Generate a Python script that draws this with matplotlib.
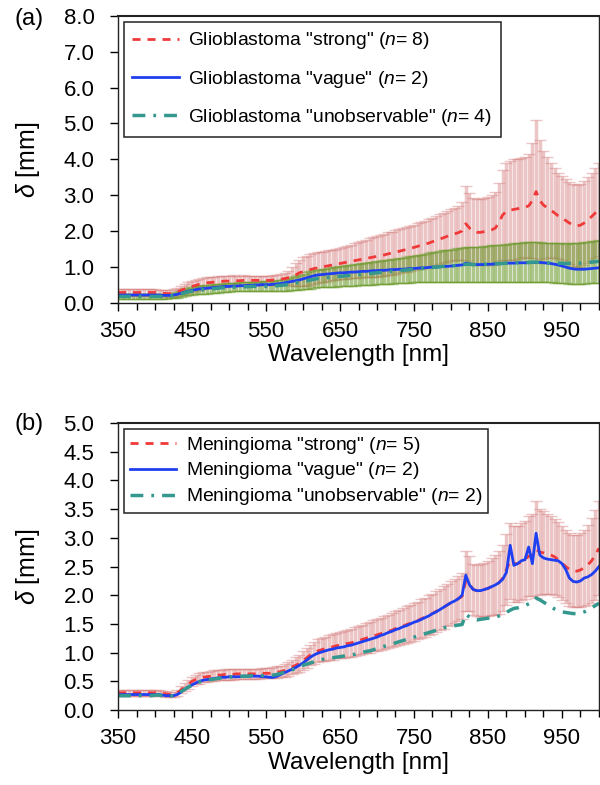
import numpy as np
import matplotlib
matplotlib.use("Agg")
import matplotlib.pyplot as plt
from matplotlib.ticker import MultipleLocator, FixedLocator

plt.rcParams['font.family'] = ['Liberation Sans', 'DejaVu Sans']
plt.rcParams['mathtext.fontset'] = 'custom'
plt.rcParams['mathtext.rm'] = 'Liberation Sans'
plt.rcParams['mathtext.it'] = 'Liberation Sans:italic'

# wavelength grid, 5 nm steps
wavelength = np.arange(350, 1001, 5)
xtick_labels = [350, 450, 550, 650, 750, 850, 950]

# ---- (a) glioblastoma ----
gbm_strong = [
    0.28, 0.28, 0.28, 0.28, 0.28, 0.28, 0.28, 0.28, 0.28, 0.28,
    0.28, 0.27, 0.26, 0.25, 0.25, 0.27, 0.30, 0.34, 0.38, 0.42,
    0.45, 0.48, 0.51, 0.53, 0.55, 0.56, 0.57, 0.58, 0.59, 0.60,
    0.60, 0.61, 0.61, 0.61, 0.62, 0.62, 0.62, 0.62, 0.62, 0.62,
    0.62, 0.62, 0.63, 0.64, 0.65, 0.67, 0.69, 0.72, 0.77, 0.83,
    0.86, 0.89, 0.92, 0.95, 0.97, 0.99, 1.01, 1.03, 1.05, 1.07,
    1.09, 1.11, 1.13, 1.15, 1.17, 1.19, 1.21, 1.23, 1.25, 1.27,
    1.29, 1.31, 1.33, 1.36, 1.38, 1.41, 1.43, 1.46, 1.48, 1.51,
    1.54, 1.57, 1.60, 1.63, 1.66, 1.70, 1.73, 1.77, 1.81, 1.85,
    1.89, 1.92, 1.95, 2.00, 2.20, 2.08, 1.99, 1.96, 1.96, 1.98,
    2.00, 2.03, 2.08, 2.25, 2.45, 2.55, 2.58, 2.60, 2.62, 2.64,
    2.66, 2.70, 2.85, 3.10, 2.85, 2.72, 2.65, 2.58, 2.50, 2.42,
    2.36, 2.29, 2.22, 2.17, 2.14, 2.16, 2.22, 2.30, 2.40, 2.50,
    2.60]
gbm_strong_sd = [
    0.09, 0.09, 0.09, 0.09, 0.09, 0.09, 0.09, 0.09, 0.09, 0.09,
    0.09, 0.09, 0.09, 0.09, 0.09, 0.10, 0.11, 0.12, 0.13, 0.14,
    0.15, 0.15, 0.15, 0.15, 0.15, 0.15, 0.15, 0.15, 0.15, 0.15,
    0.15, 0.15, 0.14, 0.14, 0.14, 0.13, 0.13, 0.13, 0.13, 0.13,
    0.13, 0.13, 0.13, 0.13, 0.14, 0.16, 0.20, 0.26, 0.32, 0.37,
    0.40, 0.42, 0.43, 0.43, 0.43, 0.43, 0.43, 0.43, 0.43, 0.43,
    0.44, 0.45, 0.46, 0.47, 0.48, 0.50, 0.51, 0.52, 0.54, 0.55,
    0.57, 0.58, 0.59, 0.60, 0.60, 0.61, 0.61, 0.62, 0.62, 0.63,
    0.63, 0.64, 0.65, 0.65, 0.66, 0.67, 0.68, 0.69, 0.70, 0.71,
    0.72, 0.73, 0.75, 0.80, 1.05, 0.98, 0.93, 0.92, 0.92, 0.93,
    0.95, 0.97, 1.00, 1.10, 1.25, 1.35, 1.38, 1.40, 1.40, 1.40,
    1.40, 1.45, 1.60, 2.00, 1.70, 1.50, 1.40, 1.32, 1.25, 1.20,
    1.17, 1.15, 1.14, 1.14, 1.15, 1.16, 1.18, 1.20, 1.23, 1.26,
    1.30]
gbm_vague = [
    0.21, 0.21, 0.21, 0.21, 0.21, 0.21, 0.21, 0.21, 0.21, 0.21,
    0.21, 0.21, 0.20, 0.20, 0.20, 0.21, 0.23, 0.26, 0.29, 0.32,
    0.34, 0.36, 0.38, 0.39, 0.40, 0.41, 0.42, 0.43, 0.44, 0.45,
    0.45, 0.46, 0.46, 0.47, 0.47, 0.48, 0.48, 0.49, 0.49, 0.50,
    0.50, 0.50, 0.51, 0.52, 0.53, 0.55, 0.57, 0.59, 0.61, 0.63,
    0.66, 0.69, 0.72, 0.75, 0.77, 0.78, 0.79, 0.80, 0.81, 0.82,
    0.83, 0.83, 0.84, 0.85, 0.85, 0.86, 0.87, 0.87, 0.88, 0.89,
    0.89, 0.90, 0.90, 0.91, 0.92, 0.92, 0.93, 0.93, 0.94, 0.95,
    0.95, 0.96, 0.97, 0.97, 0.98, 0.99, 0.99, 1.00, 1.01, 1.01,
    1.02, 1.03, 1.04, 1.05, 1.10, 1.08, 1.06, 1.06, 1.06, 1.06,
    1.07, 1.07, 1.08, 1.08, 1.09, 1.10, 1.10, 1.10, 1.11, 1.11,
    1.11, 1.11, 1.12, 1.12, 1.12, 1.11, 1.10, 1.09, 1.07, 1.05,
    1.02, 0.99, 0.96, 0.94, 0.93, 0.93, 0.93, 0.94, 0.95, 0.96,
    0.97]
gbm_unobs = [
    0.17, 0.17, 0.17, 0.17, 0.17, 0.17, 0.17, 0.17, 0.17, 0.17,
    0.17, 0.17, 0.17, 0.17, 0.18, 0.19, 0.21, 0.24, 0.27, 0.30,
    0.32, 0.34, 0.35, 0.36, 0.37, 0.38, 0.39, 0.40, 0.41, 0.42,
    0.42, 0.43, 0.43, 0.44, 0.44, 0.44, 0.45, 0.45, 0.45, 0.45,
    0.45, 0.46, 0.46, 0.47, 0.48, 0.49, 0.51, 0.53, 0.55, 0.57,
    0.59, 0.61, 0.63, 0.65, 0.67, 0.68, 0.69, 0.70, 0.71, 0.72,
    0.73, 0.74, 0.75, 0.76, 0.77, 0.78, 0.79, 0.80, 0.81, 0.82,
    0.83, 0.84, 0.85, 0.86, 0.87, 0.88, 0.89, 0.90, 0.91, 0.92,
    0.93, 0.94, 0.95, 0.96, 0.97, 0.98, 0.99, 1.00, 1.01, 1.02,
    1.02, 1.03, 1.04, 1.05, 1.07, 1.07, 1.06, 1.06, 1.06, 1.07,
    1.07, 1.08, 1.08, 1.09, 1.09, 1.10, 1.10, 1.11, 1.11, 1.12,
    1.12, 1.12, 1.13, 1.13, 1.12, 1.12, 1.11, 1.11, 1.10, 1.10,
    1.10, 1.09, 1.09, 1.09, 1.10, 1.10, 1.11, 1.12, 1.13, 1.14,
    1.15]
gbm_unobs_sd = [
    0.06, 0.06, 0.06, 0.06, 0.06, 0.06, 0.06, 0.06, 0.06, 0.06,
    0.06, 0.06, 0.06, 0.06, 0.06, 0.07, 0.08, 0.09, 0.10, 0.10,
    0.11, 0.11, 0.11, 0.12, 0.12, 0.12, 0.12, 0.12, 0.12, 0.12,
    0.12, 0.12, 0.12, 0.13, 0.13, 0.13, 0.13, 0.13, 0.13, 0.14,
    0.14, 0.14, 0.15, 0.15, 0.16, 0.17, 0.18, 0.19, 0.20, 0.21,
    0.22, 0.23, 0.24, 0.25, 0.25, 0.26, 0.26, 0.27, 0.27, 0.28,
    0.28, 0.29, 0.29, 0.30, 0.30, 0.30, 0.31, 0.31, 0.31, 0.32,
    0.32, 0.32, 0.33, 0.33, 0.34, 0.34, 0.35, 0.35, 0.36, 0.37,
    0.37, 0.38, 0.39, 0.40, 0.41, 0.42, 0.43, 0.44, 0.45, 0.46,
    0.46, 0.47, 0.48, 0.48, 0.49, 0.49, 0.50, 0.50, 0.50, 0.51,
    0.51, 0.52, 0.52, 0.53, 0.53, 0.54, 0.54, 0.55, 0.55, 0.55,
    0.56, 0.56, 0.56, 0.56, 0.56, 0.55, 0.55, 0.55, 0.55, 0.55,
    0.55, 0.55, 0.56, 0.56, 0.57, 0.57, 0.58, 0.58, 0.59, 0.59,
    0.60]

# ---- (b) meningioma ----
mng_strong = [
    0.30, 0.30, 0.30, 0.30, 0.30, 0.30, 0.30, 0.30, 0.30, 0.30,
    0.30, 0.30, 0.29, 0.28, 0.27, 0.27, 0.30, 0.35, 0.40, 0.45,
    0.50, 0.53, 0.55, 0.57, 0.58, 0.59, 0.60, 0.61, 0.61, 0.62,
    0.62, 0.62, 0.63, 0.63, 0.63, 0.63, 0.63, 0.63, 0.63, 0.64,
    0.64, 0.64, 0.65, 0.66, 0.67, 0.69, 0.72, 0.75, 0.78, 0.81,
    0.86, 0.91, 0.96, 1.00, 1.03, 1.05, 1.07, 1.09, 1.10, 1.12,
    1.13, 1.14, 1.16, 1.17, 1.19, 1.21, 1.23, 1.25, 1.27, 1.29,
    1.31, 1.33, 1.35, 1.37, 1.39, 1.42, 1.44, 1.46, 1.49, 1.51,
    1.54, 1.56, 1.59, 1.62, 1.65, 1.68, 1.72, 1.75, 1.79, 1.83,
    1.87, 1.90, 1.94, 1.98, 2.25, 2.20, 2.10, 2.08, 2.08, 2.10,
    2.12, 2.15, 2.18, 2.22, 2.30, 2.45, 2.60, 2.55, 2.55, 2.58,
    2.62, 2.68, 2.70, 2.80, 2.75, 2.74, 2.72, 2.70, 2.67, 2.62,
    2.56, 2.50, 2.45, 2.42, 2.42, 2.44, 2.48, 2.53, 2.60, 2.70,
    2.82]
mng_strong_sd = [
    0.05, 0.05, 0.05, 0.05, 0.05, 0.05, 0.05, 0.05, 0.05, 0.05,
    0.05, 0.05, 0.05, 0.05, 0.05, 0.05, 0.05, 0.06, 0.07, 0.08,
    0.08, 0.08, 0.09, 0.09, 0.09, 0.09, 0.09, 0.09, 0.09, 0.09,
    0.09, 0.09, 0.09, 0.09, 0.09, 0.09, 0.09, 0.09, 0.09, 0.09,
    0.09, 0.09, 0.10, 0.10, 0.10, 0.11, 0.12, 0.13, 0.14, 0.15,
    0.16, 0.17, 0.18, 0.19, 0.20, 0.20, 0.21, 0.21, 0.22, 0.22,
    0.23, 0.23, 0.24, 0.24, 0.25, 0.25, 0.26, 0.26, 0.27, 0.27,
    0.28, 0.28, 0.29, 0.29, 0.30, 0.30, 0.31, 0.31, 0.32, 0.32,
    0.33, 0.33, 0.34, 0.34, 0.35, 0.35, 0.36, 0.36, 0.37, 0.37,
    0.38, 0.38, 0.39, 0.40, 0.52, 0.48, 0.45, 0.45, 0.46, 0.47,
    0.48, 0.50, 0.52, 0.55, 0.58, 0.62, 0.66, 0.66, 0.66, 0.67,
    0.68, 0.70, 0.72, 0.85, 0.75, 0.72, 0.70, 0.68, 0.66, 0.65,
    0.64, 0.63, 0.63, 0.63, 0.63, 0.64, 0.66, 0.70, 0.74, 0.78,
    0.82]
mng_vague = [
    0.27, 0.27, 0.27, 0.27, 0.27, 0.27, 0.27, 0.27, 0.27, 0.27,
    0.27, 0.27, 0.26, 0.25, 0.25, 0.25, 0.27, 0.31, 0.36, 0.40,
    0.44, 0.47, 0.50, 0.52, 0.53, 0.54, 0.55, 0.56, 0.57, 0.57,
    0.58, 0.58, 0.58, 0.58, 0.59, 0.59, 0.59, 0.59, 0.59, 0.58,
    0.58, 0.57, 0.57, 0.59, 0.62, 0.65, 0.68, 0.71, 0.74, 0.78,
    0.82, 0.87, 0.92, 0.96, 0.99, 1.01, 1.03, 1.05, 1.06, 1.08,
    1.09, 1.10, 1.12, 1.13, 1.15, 1.17, 1.19, 1.21, 1.23, 1.25,
    1.27, 1.30, 1.32, 1.35, 1.37, 1.40, 1.42, 1.45, 1.47, 1.50,
    1.53, 1.55, 1.58, 1.61, 1.64, 1.68, 1.71, 1.75, 1.79, 1.83,
    1.87, 1.90, 1.94, 2.00, 2.35, 2.18, 2.10, 2.08, 2.08, 2.10,
    2.12, 2.15, 2.18, 2.22, 2.28, 2.40, 2.87, 2.52, 2.55, 2.60,
    2.62, 2.84, 2.55, 3.08, 2.70, 2.65, 2.63, 2.62, 2.61, 2.60,
    2.55, 2.45, 2.30, 2.24, 2.23, 2.25, 2.30, 2.32, 2.36, 2.42,
    2.50]
mng_unobs = [
    0.25, 0.25, 0.25, 0.25, 0.25, 0.25, 0.25, 0.25, 0.25, 0.25,
    0.26, 0.26, 0.25, 0.25, 0.24, 0.25, 0.28, 0.32, 0.36, 0.40,
    0.43, 0.46, 0.49, 0.51, 0.52, 0.53, 0.54, 0.55, 0.56, 0.57,
    0.57, 0.58, 0.58, 0.59, 0.59, 0.59, 0.60, 0.60, 0.60, 0.60,
    0.60, 0.60, 0.61, 0.62, 0.64, 0.66, 0.68, 0.70, 0.72, 0.75,
    0.78, 0.80, 0.82, 0.84, 0.86, 0.88, 0.89, 0.90, 0.91, 0.92,
    0.93, 0.94, 0.95, 0.96, 0.97, 0.99, 1.00, 1.02, 1.03, 1.05,
    1.07, 1.09, 1.11, 1.13, 1.15, 1.17, 1.19, 1.21, 1.23, 1.25,
    1.27, 1.29, 1.31, 1.33, 1.35, 1.37, 1.39, 1.41, 1.43, 1.45,
    1.46, 1.47, 1.48, 1.49, 1.67, 1.62, 1.58, 1.57, 1.58, 1.59,
    1.60, 1.61, 1.62, 1.64, 1.66, 1.70, 1.74, 1.77, 1.78, 1.80,
    1.82, 1.85, 1.88, 1.95, 1.92, 1.88, 1.84, 1.80, 1.76, 1.73,
    1.71, 1.70, 1.69, 1.68, 1.68, 1.69, 1.71, 1.74, 1.78, 1.82,
    1.86]

RED = '#f03a3a'
BLUE = '#1f3ff0'
TEAL = '#34988f'
PINK = '#d47878'
OLIVE = '#6a9a2a'

RED_DASH = (2.9, 2.5)
TEAL_DASH = (3.7, 2.3, 0.8, 2.3)

fig = plt.figure(figsize=(6.0, 7.85), dpi=100)
ax_a = fig.add_axes([0.1967, 0.6146, 0.8016, 0.365])
ax_b = fig.add_axes([0.1967, 0.0955, 0.8016, 0.3656])


def style_axis(ax, ymax, ystep):
    ax.set_xlim(350, 1000)
    ax.set_ylim(0, ymax)
    ax.xaxis.set_major_locator(FixedLocator(xtick_labels))
    ax.xaxis.set_minor_locator(MultipleLocator(25))
    ax.yaxis.set_major_locator(MultipleLocator(ystep))
    ax.yaxis.set_major_formatter(plt.FormatStrFormatter('%.1f'))
    ax.tick_params(axis='both', which='major', direction='out', length=6,
                   width=1, labelsize=16)
    ax.tick_params(axis='x', which='major', pad=7)
    ax.tick_params(axis='y', which='major', pad=11)
    ax.tick_params(axis='x', which='minor', direction='out', length=5, width=1)
    for sp in ax.spines.values():
        sp.set_linewidth(1.0)
        sp.set_color('#222222')
    ax.spines['top'].set_linewidth(1.5)
    ax.set_xlabel('Wavelength [nm]', fontsize=17.5, labelpad=2)
    ax.set_ylabel(r'$\delta$ [mm]', fontsize=18)
    ax.yaxis.set_label_coords(-0.158, 0.5)


def add_legend(ax, spacing, pad):
    leg = ax.legend(loc='upper left', fontsize=13.9, frameon=True,
                    fancybox=False, edgecolor='#222222', framealpha=1,
                    labelspacing=spacing, handlelength=2.4,
                    handletextpad=0.5, borderaxespad=0.3, borderpad=pad)
    leg.get_frame().set_linewidth(1.1)


ebar = dict(fmt='none', elinewidth=2.5, capsize=4, capthick=1.0)

# (a)
ax_a.errorbar(wavelength, gbm_strong, yerr=gbm_strong_sd, ecolor=PINK,
              alpha=0.42, **ebar)
ax_a.errorbar(wavelength, gbm_unobs, yerr=gbm_unobs_sd, ecolor=OLIVE,
              alpha=0.55, **ebar)
ax_a.plot(wavelength, gbm_strong, color=RED, lw=2, dashes=RED_DASH,
          label='Glioblastoma "strong" ($n$= 8)')
ax_a.plot(wavelength, gbm_vague, color=BLUE, lw=2,
          label='Glioblastoma "vague" ($n$= 2)')
ax_a.plot(wavelength, gbm_unobs, color=TEAL, lw=2.5, dashes=TEAL_DASH,
          label='Glioblastoma "unobservable" ($n$= 4)')
style_axis(ax_a, 8.0, 1.0)
add_legend(ax_a, 0.9, 0.45)

# (b)
ax_b.errorbar(wavelength, mng_strong, yerr=mng_strong_sd, ecolor=PINK,
              alpha=0.42, **ebar)
ax_b.plot(wavelength, mng_strong, color=RED, lw=2, dashes=RED_DASH,
          label='Meningioma "strong" ($n$= 5)')
ax_b.plot(wavelength, mng_vague, color=BLUE, lw=2,
          label='Meningioma "vague" ($n$= 2)')
ax_b.plot(wavelength, mng_unobs, color=TEAL, lw=2.5, dashes=TEAL_DASH,
          label='Meningioma "unobservable" ($n$= 2)')
style_axis(ax_b, 5.0, 0.5)
add_legend(ax_b, 0.25, 0.3)

fig.text(0.025, 0.99, '(a)', fontsize=17, va='top')
fig.text(0.025, 0.474, '(b)', fontsize=17, va='top')

fig.savefig('out.png', dpi=100)
